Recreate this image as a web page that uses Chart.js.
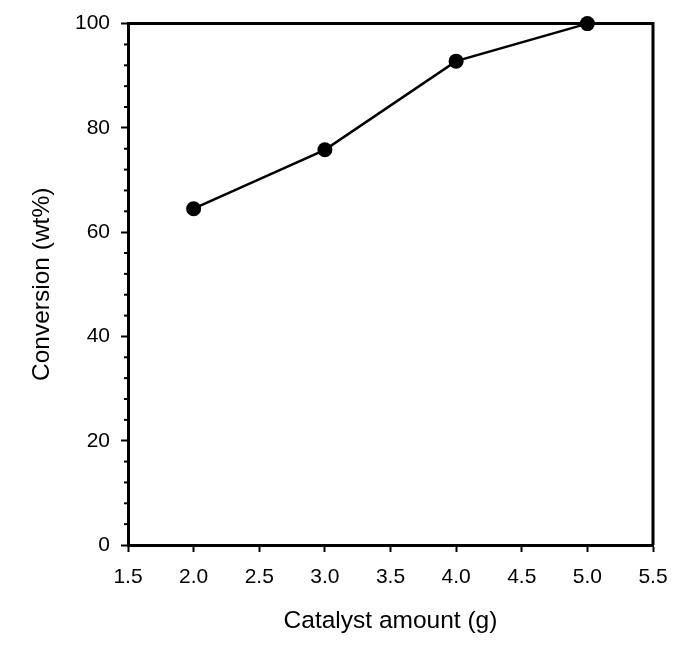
<!DOCTYPE html>
<html>
<head>
<meta charset="utf-8">
<script src="https://cdn.jsdelivr.net/npm/chart.js@4"></script>
<style>
  body { margin: 0; background: #fff; }
  #wrap { width: 682px; height: 647px; position: relative; }
</style>
</head>
<body>
<div id="wrap"><canvas id="myChart"></canvas></div>
<script>
// datos
const catalizador = [2.0, 3.0, 4.0, 5.0];
const conversion = [64.5, 75.8, 92.8, 100];
const xTicks = [1.5, 2.0, 2.5, 3.0, 3.5, 4.0, 4.5, 5.0, 5.5];
const yTicks = [0, 20, 40, 60, 80, 100];
const yMenores = [4, 8, 12, 16, 24, 28, 32, 36, 44, 48, 52, 56, 64, 68, 72, 76, 84, 88, 92, 96];

const fuente = "'Liberation Sans', Arial, sans-serif";

// marco de arriba y derecha + ticks menores del eje y
const marco = {
  id: "marco",
  afterDraw(chart) {
    const { ctx, chartArea } = chart;
    const y = chart.scales.y;
    ctx.save();
    ctx.strokeStyle = "#000";
    ctx.lineWidth = 3;
    ctx.beginPath();
    ctx.moveTo(chartArea.left, chartArea.top);
    ctx.lineTo(chartArea.right, chartArea.top);
    ctx.lineTo(chartArea.right, chartArea.bottom);
    ctx.stroke();
    ctx.lineWidth = 2;
    for (let i = 0; i < yMenores.length; i++) {
      const py = y.getPixelForValue(yMenores[i]);
      ctx.beginPath();
      ctx.moveTo(chartArea.left - 4, py);
      ctx.lineTo(chartArea.left, py);
      ctx.stroke();
    }
    ctx.restore();
  },
};

const canvas = document.getElementById("myChart");
const grafico = new Chart(canvas, {
  type: "line",
  data: {
    datasets: [
      {
        data: catalizador.map((x, i) => ({ x: x, y: conversion[i] })),
        borderColor: "#000",
        backgroundColor: "#000",
        borderWidth: 2.5,
        pointRadius: 7.5,
        pointBackgroundColor: "#000",
        pointBorderColor: "#000",
        pointBorderWidth: 0,
        tension: 0,
        clip: false,
      },
    ],
  },
  options: {
    responsive: true,
    maintainAspectRatio: false,
    animation: false,
    layout: { padding: { top: 19, right: 29, left: 0, bottom: 0 } },
    plugins: { legend: { display: false }, tooltip: { enabled: false } },
    scales: {
      x: {
        type: "linear",
        min: 1.5,
        max: 5.5,
        afterBuildTicks: (scale) => {
          scale.ticks = xTicks.map((v) => ({ value: v }));
        },
        afterFit: (scale) => {
          scale.height = 102;
        },
        grid: { drawOnChartArea: false, drawTicks: true, tickLength: 7, tickColor: "#000", tickWidth: 2 },
        border: { display: true, color: "#000", width: 3 },
        ticks: {
          color: "#000",
          font: { family: fuente, size: 21 },
          padding: 13,
          maxRotation: 0,
          callback: (v) => Number(v).toFixed(1),
        },
        title: {
          display: true,
          text: "Catalyst amount (g)",
          color: "#000",
          font: { family: fuente, size: 24.5 },
          padding: { top: 0, bottom: 11 },
        },
      },
      y: {
        type: "linear",
        min: 0,
        max: 100,
        afterBuildTicks: (scale) => {
          scale.ticks = yTicks.map((v) => ({ value: v }));
        },
        afterFit: (scale) => {
          scale.width = 128;
        },
        grid: { drawOnChartArea: false, drawTicks: true, tickLength: 7, tickColor: "#000", tickWidth: 2 },
        border: { display: true, color: "#000", width: 3 },
        ticks: {
          color: "#000",
          font: { family: fuente, size: 21 },
          padding: 11,
        },
        title: {
          display: true,
          text: "Conversion (wt%)",
          color: "#000",
          font: { family: fuente, size: 24.5 },
          padding: { top: 28, bottom: 0 },
        },
      },
    },
  },
  plugins: [marco],
});
</script>
</body>
</html>
